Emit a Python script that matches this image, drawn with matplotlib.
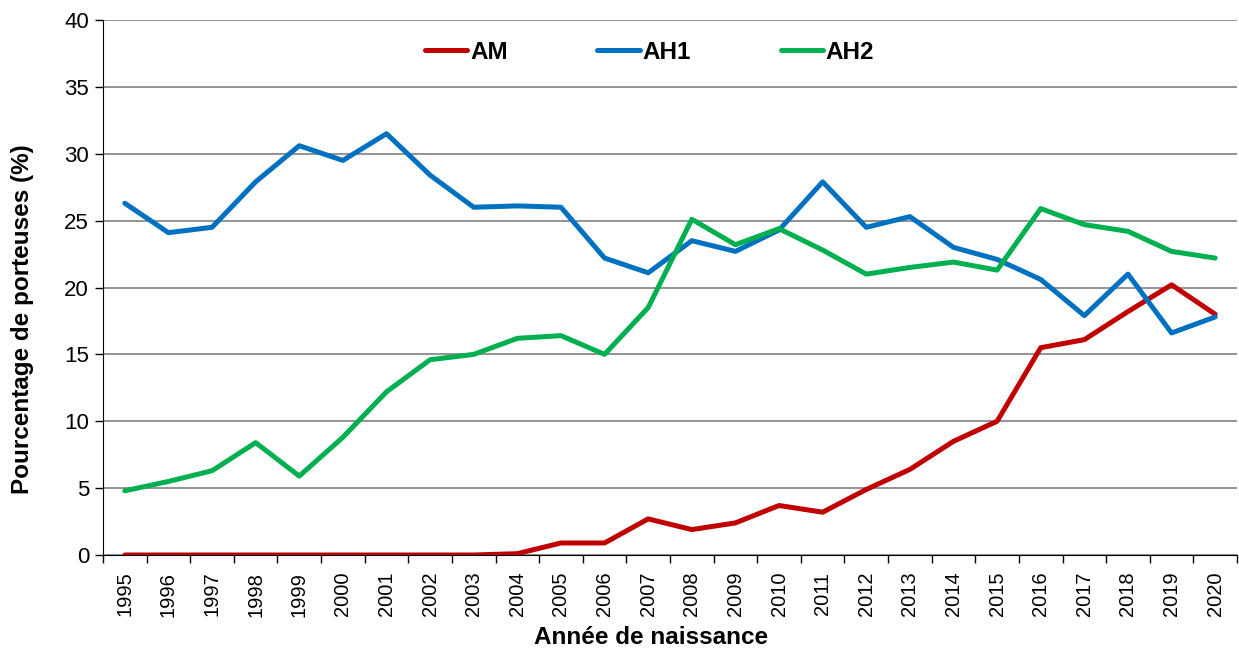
import matplotlib
matplotlib.use("Agg")
import matplotlib.pyplot as plt
import numpy as np

plt.rcParams['font.family'] = ['Liberation Sans', 'DejaVu Sans']

years = [str(y) for y in range(1995, 2021)]
am = [0, 0, 0, 0, 0, 0, 0, 0, 0, 0.1, 0.9, 0.9, 2.7, 1.9, 2.4, 3.7, 3.2, 4.9,
      6.4, 8.5, 10.0, 15.5, 16.1, 18.2, 20.2, 18.0]
ah1 = [26.3, 24.1, 24.5, 27.9, 30.6, 29.5, 31.5, 28.4, 26.0, 26.1, 26.0, 22.2,
       21.1, 23.5, 22.7, 24.3, 27.9, 24.5, 25.3, 23.0, 22.1, 20.6, 17.9, 21.0,
       16.6, 17.8]
ah2 = [4.8, 5.5, 6.3, 8.4, 5.9, 8.8, 12.2, 14.6, 15.0, 16.2, 16.4, 15.0, 18.5,
       25.1, 23.2, 24.4, 22.8, 21.0, 21.5, 21.9, 21.3, 25.9, 24.7, 24.2, 22.7,
       22.2]
yticks = [0, 5, 10, 15, 20, 25, 30, 35, 40]

fig = plt.figure(figsize=(12.39, 6.49), dpi=100)
ax = fig.add_axes([103/1239, 1 - 555/649, (1237-103)/1239, (555-20)/649])

x = np.arange(len(years))
lw = 3.6
ax.plot(x, am, color='#C00000', lw=lw, label='AM', solid_capstyle='round', zorder=3)
ax.plot(x, ah1, color='#0070C0', lw=lw, label='AH1', solid_capstyle='round', zorder=3)
ax.plot(x, ah2, color='#00B050', lw=lw, label='AH2', solid_capstyle='round', zorder=3)

ax.set_xlim(-0.5, len(years) - 0.5)
ax.set_ylim(0, 40)
ax.set_yticks(yticks)
ax.set_yticklabels([str(v) for v in yticks], fontsize=16)
ax.yaxis.grid(True, color='#808080', lw=1.2)
ax.set_axisbelow(True)

ax.set_xticks(x)
ax.set_xticklabels(years, rotation=90, fontsize=14.5)
ax.set_xticks(np.arange(-0.5, len(years)), minor=True)
ax.tick_params(axis='x', which='major', length=0, pad=12)
ax.tick_params(axis='x', which='minor', length=6, width=1, direction='out')
ax.tick_params(axis='y', length=6, width=1, direction='out', pad=4)

for s in ['top', 'right']:
    ax.spines[s].set_visible(False)
ax.spines['left'].set_color('black')
ax.spines['bottom'].set_color('black')

ax.set_ylabel('Pourcentage de porteuses (%)', fontsize=17.5, fontweight='bold')
ax.yaxis.set_label_coords(-0.0605, 0.44)
ax.set_xlabel('Année de naissance', fontsize=17.5, fontweight='bold', va='center')
ax.xaxis.set_label_coords(0.483, -0.155)

leg = ax.legend(loc='center', bbox_to_anchor=(0.482, 0.94), ncol=3, frameon=False,
                prop={'weight': 'bold', 'size': 17.5}, handlelength=1.75,
                handletextpad=0.1, columnspacing=3.7)

fig.savefig('out.png', dpi=100)
